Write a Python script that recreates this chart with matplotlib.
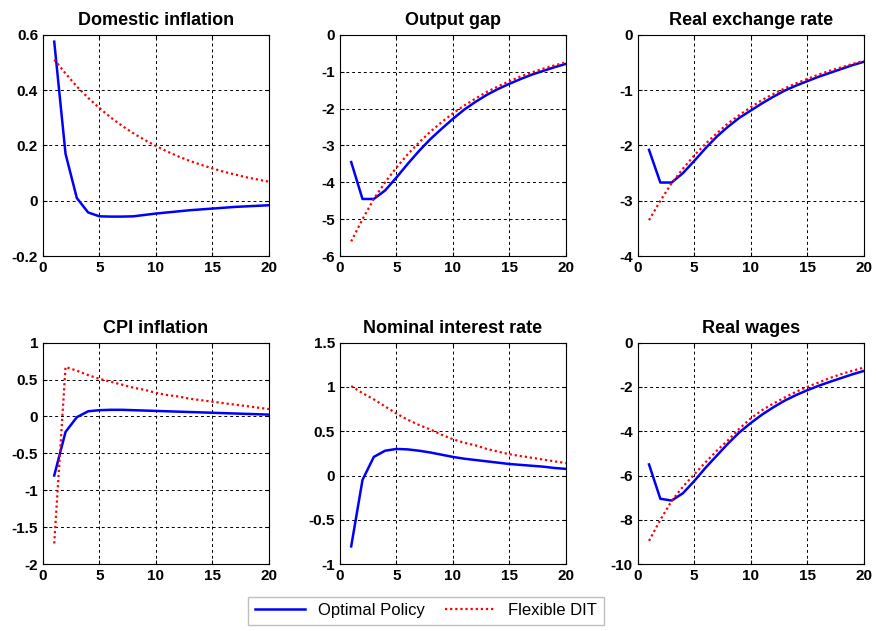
import numpy as np
import matplotlib.pyplot as plt
from matplotlib.ticker import FormatStrFormatter

plt.rcParams['font.family'] = ['Liberation Sans Narrow', 'Liberation Sans', 'DejaVu Sans']
plt.rcParams['axes.unicode_minus'] = False

periods = np.arange(1, 21)

titles = ["Domestic inflation", "Output gap", "Real exchange rate",
          "CPI inflation", "Nominal interest rate", "Real wages"]

# optimal policy responses
opt_dom_infl = [0.575, 0.17, 0.01, -0.042, -0.056, -0.057, -0.057, -0.056, -0.051, -0.046,
                -0.042, -0.038, -0.034, -0.031, -0.028, -0.025, -0.022, -0.02, -0.018, -0.016]
opt_output = [-3.45, -4.45, -4.45, -4.22, -3.87, -3.5, -3.15, -2.83, -2.55, -2.28,
              -2.03, -1.82, -1.63, -1.47, -1.33, -1.2, -1.08, -0.98, -0.88, -0.79]
opt_rer = [-2.08, -2.67, -2.67, -2.5, -2.28, -2.05, -1.84, -1.66, -1.5, -1.37,
           -1.24, -1.12, -1.01, -0.92, -0.84, -0.76, -0.69, -0.62, -0.55, -0.49]
opt_cpi = [-0.8, -0.21, -0.01, 0.07, 0.085, 0.09, 0.09, 0.085, 0.08, 0.075,
           0.07, 0.065, 0.06, 0.055, 0.05, 0.045, 0.04, 0.035, 0.03, 0.025]
opt_rate = [-0.8, -0.05, 0.21, 0.28, 0.3, 0.295, 0.28, 0.26, 0.235, 0.21,
            0.19, 0.175, 0.16, 0.145, 0.13, 0.12, 0.11, 0.1, 0.085, 0.075]
opt_wages = [-5.5, -7.05, -7.13, -6.8, -6.25, -5.65, -5.1, -4.55, -4.05, -3.63,
             -3.25, -2.92, -2.62, -2.37, -2.15, -1.95, -1.77, -1.6, -1.43, -1.28]

# flexible domestic inflation targeting responses
dit_dom_infl = [0.51, 0.46, 0.413, 0.372, 0.335, 0.301, 0.271, 0.244, 0.22, 0.198,
                0.178, 0.16, 0.144, 0.13, 0.117, 0.105, 0.095, 0.085, 0.077, 0.069]
dit_output = [-5.6, -5.0, -4.45, -4.0, -3.6, -3.24, -2.92, -2.63, -2.37, -2.13,
              -1.92, -1.73, -1.55, -1.4, -1.26, -1.13, -1.02, -0.92, -0.83, -0.75]
dit_rer = [-3.35, -3.0, -2.68, -2.42, -2.18, -1.97, -1.78, -1.6, -1.45, -1.31,
           -1.18, -1.07, -0.97, -0.88, -0.8, -0.72, -0.65, -0.59, -0.53, -0.47]
dit_cpi = [-1.72, 0.67, 0.62, 0.56, 0.51, 0.47, 0.43, 0.39, 0.36, 0.32,
           0.29, 0.27, 0.24, 0.22, 0.2, 0.18, 0.16, 0.14, 0.12, 0.1]
dit_rate = [1.01, 0.93, 0.86, 0.78, 0.7, 0.63, 0.57, 0.52, 0.46, 0.41,
            0.37, 0.34, 0.3, 0.27, 0.24, 0.22, 0.2, 0.18, 0.16, 0.14]
dit_wages = [-8.95, -8.0, -7.15, -6.5, -5.95, -5.4, -4.88, -4.4, -3.88, -3.42,
             -3.05, -2.75, -2.48, -2.22, -2.0, -1.8, -1.6, -1.42, -1.27, -1.13]

optimal = [opt_dom_infl, opt_output, opt_rer, opt_cpi, opt_rate, opt_wages]
flexible = [dit_dom_infl, dit_output, dit_rer, dit_cpi, dit_rate, dit_wages]

ylims = [(-0.2, 0.6), (-6, 0), (-4, 0), (-2, 1), (-1, 1.5), (-10, 0)]
ysteps = [0.2, 1, 1, 0.5, 0.5, 2]

fig = plt.figure(figsize=(8.76, 6.31), dpi=100)

lefts = [0.049, 0.388, 0.728]
bottoms = [0.594, 0.106]
w, h = 0.258, 0.351

for i in range(6):
    row, col = divmod(i, 3)
    ax = fig.add_axes([lefts[col], bottoms[row], w, h])
    ax.plot(periods, optimal[i], color='blue', lw=1.8, label='Optimal Policy')
    ax.plot(periods, flexible[i], color='red', lw=1.6, linestyle=(0, (1, 1.3)),
            label='Flexible DIT')
    ax.set_xlim(0, 20)
    ax.set_ylim(*ylims[i])
    ax.set_xticks([0, 5, 10, 15, 20])
    lo, hi = ylims[i]
    ax.set_yticks(np.arange(lo, hi + ysteps[i] / 2, ysteps[i]))
    ax.yaxis.set_major_formatter(FormatStrFormatter('%g'))
    ax.grid(True, color='k', linestyle=(0, (3, 3)), lw=0.7)
    ax.tick_params(direction='in', top=True, right=True, length=3, labelsize=11)
    for lab in ax.get_xticklabels() + ax.get_yticklabels():
        lab.set_fontweight('bold')
    for s in ax.spines.values():
        s.set_linewidth(0.8)
    ax.set_title(titles[i], fontsize=13, fontweight='bold', pad=7)
    if i == 0:
        handles, labels = ax.get_legend_handles_labels()

fig.legend(handles, labels, loc='center', bbox_to_anchor=(0.486, 0.032), ncol=2,
           fancybox=False, edgecolor='#b0b0b0', handlelength=3, columnspacing=1.2,
           prop={'family': ['Liberation Sans'], 'size': 12})

fig.savefig('out.png', dpi=100)
